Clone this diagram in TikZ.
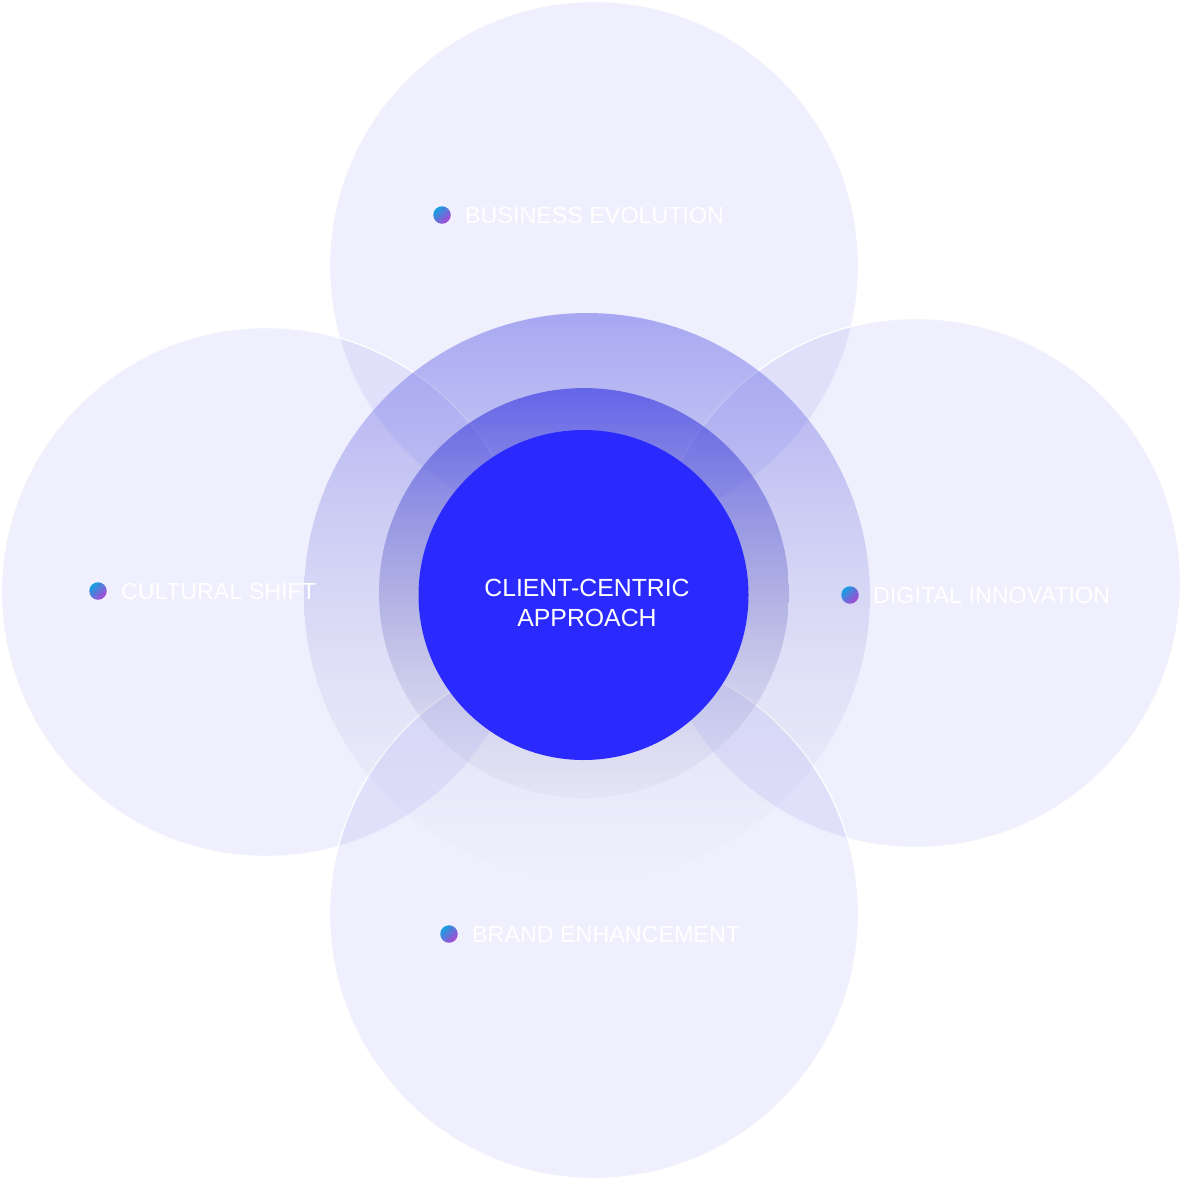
\documentclass[tikz,border=0pt]{standalone}
\usepackage{fontspec}
\setmainfont{Liberation Sans}
\usetikzlibrary{positioning, fadings}

\definecolor{petal}{RGB}{100,100,240}
\definecolor{corecol}{RGB}{42,42,255}
\definecolor{ringtop}{RGB}{80,80,230}
\definecolor{ringmid}{RGB}{135,135,195}
\definecolor{ringlow}{RGB}{190,190,215}
\definecolor{innertop}{RGB}{55,55,228}
\definecolor{innermid}{RGB}{115,115,200}
\definecolor{dotblue}{RGB}{20,160,225}
\definecolor{dotpurple}{RGB}{175,70,210}

\tikzfading[name=outerfade, top color=transparent!55, middle color=transparent!58, bottom color=transparent!100]
\tikzfading[name=innerfade, top color=transparent!36, middle color=transparent!52, bottom color=transparent!88]

\tikzset{
  petalcircle/.style={circle, minimum size=529pt, inner sep=0pt, fill=petal, fill opacity=0.1, draw=white, draw opacity=0.9, line width=1.5pt},
  ringdisc/.style={circle, inner sep=0pt, shade, top color=ringtop, middle color=ringmid, bottom color=ringlow},
  coredisc/.style={circle, minimum size=330pt, inner sep=0pt, fill=corecol},
  tagdot/.style={circle, minimum size=17.5pt, inner sep=0pt, shade, top color=dotblue, bottom color=dotpurple, shading angle=45},
  tag/.style={inner sep=0pt, text=white, font=\fontsize{23.3}{28}\selectfont}
}

\begin{document}
\begin{tikzpicture}[x=1pt, y=-1pt]
  \useasboundingbox[fill=white] (0,0) rectangle (1183,1181);

  % four petals
  \node[petalcircle] (business) at (594,266) {};
  \node[petalcircle] (cultural) at (266,592) {};
  \node[petalcircle] (digital) at (916,583) {};
  \node[petalcircle] (brand) at (594,914) {};

  % rings and core
  \node[ringdisc, minimum size=566pt, path fading=outerfade] (outer) at (587,596) {};
  \node[ringdisc, minimum size=410pt, top color=innertop, middle color=innermid, path fading=innerfade] (inner) at (584,593) {};
  \node[coredisc] (core) at (583.5,595) {};
  \node[text=white, align=center, inner sep=0pt, font=\fontsize{24.8}{30}\selectfont] (approach) at (587,603) {CLIENT-CENTRIC\\APPROACH};

  % labels
  \node[tagdot] (businessdot) at (442,215) {};
  \node[tag, right=14pt of businessdot] (businesstag) {BUSINESS EVOLUTION};
  \node[tagdot] (culturaldot) at (98,591) {};
  \node[tag, right=14pt of culturaldot] (culturaltag) {CULTURAL SHIFT};
  \node[tagdot] (digitaldot) at (850,595) {};
  \node[tag, right=14pt of digitaldot] (digitaltag) {DIGITAL INNOVATION};
  \node[tagdot] (branddot) at (449,934) {};
  \node[tag, right=14pt of branddot] (brandtag) {BRAND ENHANCEMENT};
\end{tikzpicture}
\end{document}
